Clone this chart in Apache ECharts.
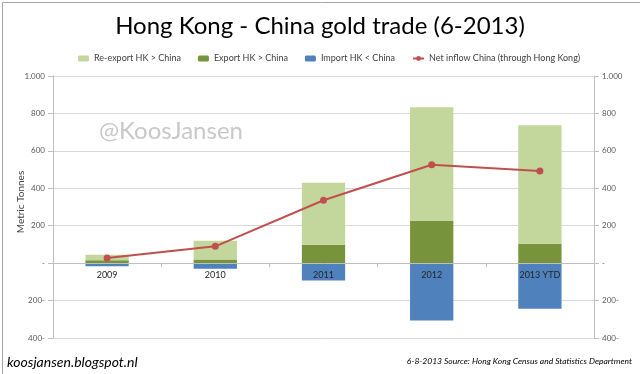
<!DOCTYPE html>
<html>
<head>
<meta charset="utf-8">
<script src="https://cdn.jsdelivr.net/npm/echarts@6/dist/echarts.min.js"></script>
<style>html,body{margin:0;padding:0;background:#fff}#c{width:640px;height:374px}</style>
</head>
<body>
<div id="c"></div>
<script>
const categories = ['2009', '2010', '2011', '2012', '2013 YTD'];
const reExport = [30, 100, 331, 608, 633];
const exportHK = [15, 20, 98, 225, 104];
const importHK = [-17, -30, -93, -307, -244];
const netInflow = [28, 90, 336, 526, 493];
const yTicks = [-400, -200, 0, 200, 400, 600, 800, 1000];
const yTickLabels = ['400-', '200-', '-', '200', '400', '600', '800', '1.000'];

const fmt = v => { const i = yTicks.indexOf(v); return i >= 0 ? yTickLabels[i] : ''; };
const FONT = 'Lato';
const chart = echarts.init(document.getElementById('c'), null, {renderer: 'canvas'});
const yMin = -400, yMax = 1000;
const gridTop = 76, gridBottom = 36, chartH = 374;
const zeroOffset = -((chartH - gridTop - gridBottom) * (0 - yMin) / (yMax - yMin));
const yBase = {
  type: 'value', min: yMin, max: yMax, interval: 200,
  axisLine: {show: true, lineStyle: {color: '#bfbfbf'}},
  axisTick: {show: true, length: 5, lineStyle: {color: '#bfbfbf'}},
  axisLabel: {formatter: fmt, color: '#595959', fontSize: 8, fontFamily: FONT, margin: 8},
};
chart.setOption({
  animation: false,
  textStyle: {fontFamily: FONT},
  title: {
    text: 'Hong Kong - China gold trade (6-2013)', left: 'center', top: 9,
    textStyle: {fontSize: 24, fontWeight: 'normal', color: '#000', fontFamily: FONT}
  },
  legend: {
    data: ['Re-export HK > China', 'Export HK > China', 'Import HK < China', 'Net inflow China (through Hong Kong)'],
    left: 73, top: 49, itemWidth: 11, itemHeight: 6, itemGap: 17,
    textStyle: {fontSize: 9, color: '#404040', fontFamily: FONT}
  },
  grid: {left: 53, right: 46, top: gridTop, bottom: gridBottom},
  xAxis: {
    type: 'category', data: categories, z: 10, position: 'bottom', offset: zeroOffset,
    axisLine: {onZero: false, lineStyle: {color: '#bfbfbf'}},
    axisTick: {show: true, length: 4, lineStyle: {color: '#bfbfbf'}},
    axisLabel: {color: '#262626', fontSize: 9, fontFamily: FONT, margin: 7}
  },
  yAxis: [
    Object.assign({}, yBase, {
      position: 'left',
      splitLine: {show: true, lineStyle: {color: '#d9d9d9'}}
    }),
    Object.assign({}, yBase, {position: 'right', splitLine: {show: false}})
  ],
  series: [
    {name: 'Export HK > China', type: 'bar', stack: 'a', data: exportHK, barCategoryGap: '60%',
     itemStyle: {color: '#77933c'}},
    {name: 'Re-export HK > China', type: 'bar', stack: 'a', data: reExport,
     itemStyle: {color: '#c3d69b'}},
    {name: 'Import HK < China', type: 'bar', stack: 'a', data: importHK,
     itemStyle: {color: '#4f81bd'}},
    {name: 'Net inflow China (through Hong Kong)', type: 'line', data: netInflow, z: 5,
     symbol: 'circle', symbolSize: 7, lineStyle: {color: '#c0504d', width: 2},
     itemStyle: {color: '#c0504d'}}
  ],
  graphic: [
    {type: 'rect', left: 0, top: 0, z: -1, shape: {x: 0.5, y: 0.5, width: 638, height: 372},
     style: {fill: 'none', stroke: '#a6a6a6', lineWidth: 1}, silent: true},
    {type: 'text', x: 21, y: 202, rotation: Math.PI / 2, z: 20,
     style: {text: 'Metric Tonnes', fill: '#404040', font: '10px Lato', align: 'center', verticalAlign: 'middle'}},
    {type: 'text', left: 99, top: 119, z: 20,
     style: {text: '@KoosJansen', fill: '#c8c8c8', font: '24px Lato'}},
    {type: 'text', left: 7, top: 355,
     style: {text: 'koosjansen.blogspot.nl', fill: '#000', font: 'italic 14px Lato'}},
    {type: 'text', right: 8, top: 357,
     style: {text: '6-8-2013 Source: Hong Kong Census and Statistics Department', fill: '#000', font: 'italic 8.5px Lato'}}
  ]
});
</script>
</body>
</html>
